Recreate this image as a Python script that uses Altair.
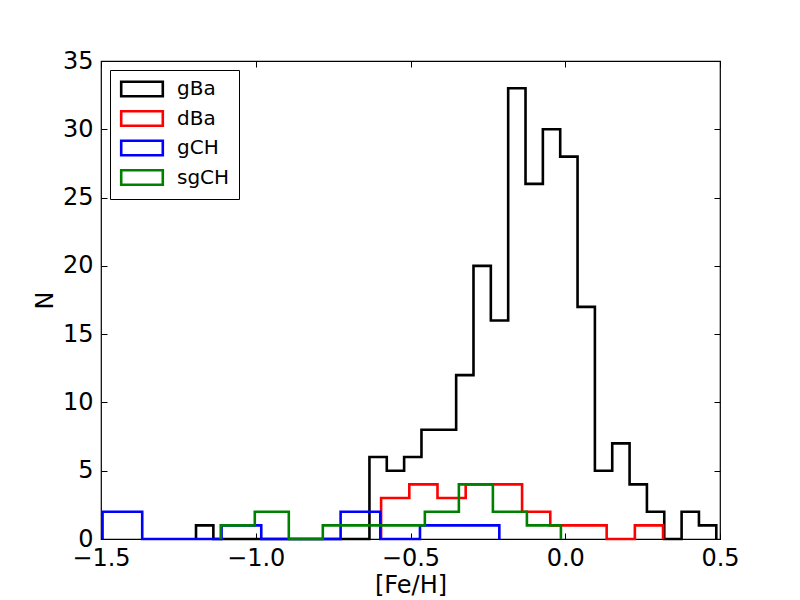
import altair as alt
import pandas as pd
import numpy as np

series = ["gBa", "dBa", "gCH", "sgCH"]
colors = ["#000000", "#ff0000", "#0000ff", "#008000"]

# histogram bin ranges (first edge, last edge) and counts per bin
gBa_range = (-1.193, 0.488)
gBa_counts = [1, 0, 0, 0, 0, 0, 0, 0, 0, 0, 6, 5, 6, 8, 8, 12, 20, 16, 33, 26,
              30, 28, 17, 5, 7, 4, 2, 0, 2, 1]
dBa_range = (-0.595, 0.316)
dBa_counts = [3, 4, 3, 4, 4, 2, 1, 1, 0, 1]
gCH_range = (-1.495, -0.213)
gCH_counts = [2, 0, 0, 1, 0, 0, 2, 0, 1, 1]
sgCH_range = (-1.113, -0.014)
sgCH_counts = [1, 2, 0, 1, 1, 1, 2, 4, 2, 1]

x_ticks = [-1.5, -1.0, -0.5, 0.0, 0.5]
y_ticks = [0, 5, 10, 15, 20, 25, 30, 35]

hists = {
    "gBa": (gBa_range, gBa_counts),
    "dBa": (dBa_range, dBa_counts),
    "gCH": (gCH_range, gCH_counts),
    "sgCH": (sgCH_range, sgCH_counts),
}

rows = []
for si, name in enumerate(series):
    (lo, hi), counts = hists[name]
    edges = np.linspace(lo, hi, len(counts) + 1)
    pts = [(edges[0], 0)]
    for i, c in enumerate(counts):
        pts.append((edges[i], c))
        pts.append((edges[i + 1], c))
    pts.append((edges[-1], 0))
    for k, (xv, yv) in enumerate(pts):
        rows.append({"series": name, "x": float(xv), "y": yv, "o": k, "s": si})
df = pd.DataFrame(rows)

FONT = "DejaVu Sans"
TICK = 6
FS = 24

xscale = alt.Scale(domain=[-1.5, 0.5], nice=False, zero=False)
yscale = alt.Scale(domain=[0, 35], nice=False)

label_expr = "replace(format(datum.value, '.1f'), '-', '\u2212')"

lines = alt.Chart(df).mark_line(strokeWidth=2.6, strokeJoin="miter", strokeCap="butt").encode(
    x=alt.X("x:Q", scale=xscale,
            axis=alt.Axis(orient="bottom", values=x_ticks, labelExpr=label_expr,
                          title="[Fe/H]", offset=-TICK, tickSize=TICK, domain=False,
                          grid=False, labelPadding=7, titlePadding=3,
                          labelFlush=False, labelFontSize=FS, titleFontSize=FS,
                          labelFont=FONT, titleFont=FONT)),
    y=alt.Y("y:Q", scale=yscale,
            axis=alt.Axis(orient="left", values=y_ticks, title="N",
                          offset=-TICK, tickSize=TICK, domain=False, grid=False,
                          labelPadding=8, titlePadding=5, labelFlush=False,
                          labelFontSize=FS, titleFontSize=FS,
                          labelFont=FONT, titleFont=FONT)),
    color=alt.Color("series:N",
                    scale=alt.Scale(domain=series, range=colors),
                    sort=series,
                    legend=alt.Legend(title=None, orient="none", legendX=9, legendY=9,
                                      symbolType="M-2.6,-0.9H2.6V0.9H-2.6Z",
                                      symbolSize=256, symbolStrokeWidth=2.6,
                                      symbolFillColor="transparent",
                                      symbolOffset=13, labelOffset=25,
                                      labelFontSize=20, labelFont=FONT,
                                      labelColor="black",
                                      rowPadding=3.5, padding=9,
                                      strokeColor="black", fillColor="white")),
    order=alt.Order("o:Q"),
)

frame = alt.Chart(df).mark_line(opacity=0).encode(
    x=alt.X("x:Q", scale=xscale,
            axis=alt.Axis(orient="top", values=x_ticks, labels=False, title=None,
                          offset=-TICK, tickSize=TICK, domain=False, grid=False)),
    y=alt.Y("y:Q", scale=yscale,
            axis=alt.Axis(orient="right", values=y_ticks, labels=False, title=None,
                          offset=-TICK, tickSize=TICK, domain=False, grid=False)),
    detail="series:N",
)

chart = alt.layer(lines, frame).resolve_axis(x="independent", y="independent").properties(
    width=619, height=478,
    autosize=alt.AutoSizeParams(type="none"),
    padding={"left": 93, "top": 53, "right": 70, "bottom": 60},
    background="white",
).configure_view(stroke="black", strokeWidth=1.2).configure_axis(
    titleFontWeight="normal", labelColor="black", titleColor="black",
    tickColor="black", tickWidth=1,
)

chart.save("out.html", embed_options={"renderer": "svg", "actions": False})
